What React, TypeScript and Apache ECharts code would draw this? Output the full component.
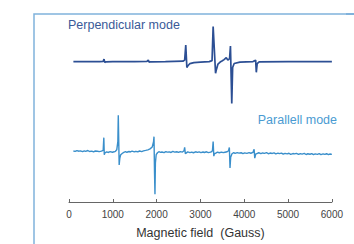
import React, { useEffect, useRef } from "react";
import * as echarts from "echarts";

// Magnetic field ticks (Gauss)
const fieldTicks = [0, 1000, 2000, 3000, 4000, 5000, 6000];

// Perpendicular mode spectrum: [field (G), signal (arb.)]
const perpendicular: [number, number][] = [
  [100, 144], [400, 144], [700, 144], [780, 144.2], [800, 146.5], [815, 143.2], [840, 143.8],
  [1000, 144], [1500, 144], [1780, 144.2], [1810, 145.5], [1830, 143.5], [1860, 143.8],
  [2200, 144], [2600, 144.4], [2640, 145.5], [2665, 161], [2690, 138], [2710, 139.5],
  [2760, 142], [2850, 143], [3000, 143.5], [3200, 144], [3265, 145], [3290, 180],
  [3345, 132], [3365, 136], [3400, 141.5], [3450, 143.5], [3500, 144.8], [3540, 146],
  [3590, 148], [3625, 145.5], [3665, 147], [3685, 160], [3715, 101], [3735, 138],
  [3770, 142], [3900, 143.5], [4200, 144], [4245, 145], [4260, 145.5], [4275, 133],
  [4295, 142], [4340, 143.8], [5000, 144], [5500, 144], [6000, 144],
];

// Parallel mode spectrum: [field (G), signal (arb.)]
const parallel: [number, number][] = [
  [100, 52.3], [140, 51.9], [180, 52.7], [230, 52.1], [260, 52.5], [310, 51.6], [350, 52.4],
  [380, 52.0], [430, 52.8], [470, 51.8], [520, 52.2], [560, 51.5], [600, 52.3], [650, 52.1],
  [690, 51.7], [740, 52.2], [780, 53], [795, 66], [805, 48.5], [820, 50.5], [860, 51.4],
  [890, 50.8], [940, 51.6], [990, 51.0], [1030, 51.5], [1060, 52.0], [1090, 53.5],
  [1115, 62], [1125, 89], [1145, 38], [1160, 45], [1180, 48.5], [1220, 50], [1250, 50.9],
  [1290, 51.6], [1320, 51.0], [1370, 51.8], [1400, 51.3], [1440, 52.1], [1490, 51.4],
  [1520, 51.9], [1570, 51.5], [1610, 52.3], [1660, 51.7], [1700, 52.4], [1750, 52.9],
  [1800, 53.5], [1850, 54.5], [1900, 56.5], [1930, 62], [1940, 67], [1952, 30], [1962, 8],
  [1972, 40], [1990, 48.5], [2020, 50.5], [2050, 51.6], [2090, 50.9], [2120, 51.3],
  [2170, 50.6], [2210, 51.7], [2240, 51.1], [2290, 51.4], [2330, 50.8], [2370, 51.9],
  [2410, 51.2], [2460, 51.5], [2500, 50.9], [2540, 51.7], [2590, 51.2], [2625, 52.5],
  [2640, 56], [2655, 49.5], [2680, 50.4], [2710, 51.4], [2760, 50.7], [2800, 51.2],
  [2840, 50.5], [2890, 51.5], [2930, 50.9], [2970, 51.4], [3010, 50.6], [3060, 51.3],
  [3090, 50.8], [3140, 51.5], [3180, 50.7], [3230, 51.2], [3260, 51.8], [3275, 53],
  [3290, 62], [3305, 47], [3320, 49.5], [3360, 50.3], [3390, 51.1], [3430, 50.5],
  [3480, 51.2], [3520, 50.6], [3560, 51.0], [3610, 51.5], [3640, 52.5], [3660, 56],
  [3675, 35], [3690, 46], [3720, 49.5], [3760, 50.6], [3790, 49.8], [3840, 50.7],
  [3880, 50.1], [3930, 50.5], [3970, 49.7], [4010, 50.4], [4060, 49.9], [4110, 50.6],
  [4150, 50.0], [4200, 51], [4225, 54], [4240, 45], [4260, 49], [4300, 49.9], [4330, 50.5],
  [4380, 49.6], [4420, 50.3], [4460, 49.9], [4510, 50.6], [4550, 49.5], [4590, 50.2],
  [4640, 49.8], [4680, 50.4], [4720, 49.3], [4770, 50.1], [4800, 49.6], [4850, 50.2],
  [4890, 49.1], [4930, 49.9], [4980, 49.4], [5020, 50.0], [5060, 48.9], [5110, 49.7],
  [5150, 49.3], [5190, 49.9], [5240, 48.8], [5280, 49.6], [5320, 49.1], [5370, 49.8],
  [5410, 48.7], [5450, 49.5], [5500, 49.0], [5540, 49.7], [5580, 48.6], [5620, 49.4],
  [5670, 48.9], [5710, 49.6], [5750, 48.5], [5800, 49.3], [5840, 48.8], [5880, 49.5],
  [5920, 48.6], [5960, 49.2], [6000, 48.9],
];

const seriesNames = ["Perpendicular mode", "Parallell mode"];

export default function App() {
  const ref = useRef<HTMLDivElement>(null);
  useEffect(() => {
    if (!ref.current) return;
    const chart = echarts.init(ref.current, undefined, { renderer: "svg" });
    const font = "Arial, 'Liberation Sans', sans-serif";
    chart.setOption({
      animation: false,
      grid: { left: 69, right: 9, top: 7, height: 200 },
      xAxis: {
        type: "value",
        min: fieldTicks[0],
        max: fieldTicks[fieldTicks.length - 1],
        interval: 1000,
        name: "Magnetic field  (Gauss)",
        nameLocation: "middle",
        nameGap: 24,
        nameTextStyle: { fontSize: 12.5, color: "#333", fontFamily: font },
        axisLine: { show: true, lineStyle: { color: "#666", width: 1 } },
        axisTick: { show: true, inside: true, length: 3, lineStyle: { color: "#666" } },
        axisLabel: {
          fontSize: 10,
          color: "#444",
          margin: 7,
          fontFamily: font,
          formatter: (v: number) => String(v),
        },
        splitLine: { show: false },
      },
      yAxis: {
        type: "value",
        min: 0,
        max: 200,
        show: false,
      },
      graphic: [
        {
          type: "rect",
          shape: { x: 34, y: 14, width: 400, height: 300 },
          style: { fill: "none", stroke: "#80b2dc", lineWidth: 1.5 },
          silent: true,
        },
        {
          type: "text",
          x: 68,
          y: 25,
          style: {
            text: seriesNames[0],
            fontSize: 12.5,
            fill: "#3a5a98",
            fontFamily: font,
            verticalAlign: "middle",
            align: "left",
          },
        },
        {
          type: "text",
          x: 337,
          y: 120,
          style: {
            text: seriesNames[1],
            fontSize: 12.5,
            fill: "#4a9bd2",
            fontFamily: font,
            verticalAlign: "middle",
            align: "right",
          },
        },
      ],
      series: [
        {
          name: seriesNames[0],
          type: "line",
          data: perpendicular,
          showSymbol: false,
          lineStyle: { color: "#2c4f94", width: 1.7 },
        },
        {
          name: seriesNames[1],
          type: "line",
          data: parallel,
          showSymbol: false,
          lineStyle: { color: "#3a8fcb", width: 1.4 },
        },
      ],
    });
    return () => chart.dispose();
  }, []);
  return (
    <>
      <div
        ref={ref}
        style={{ position: "absolute", left: 0, top: 0, width: 346, height: 244, overflow: "hidden" }}
      />
      <div
        style={{
          position: "absolute",
          left: 346,
          top: 13.25,
          width: 8,
          height: 1.5,
          background: "#80b2dc",
        }}
      />
    </>
  );
}
